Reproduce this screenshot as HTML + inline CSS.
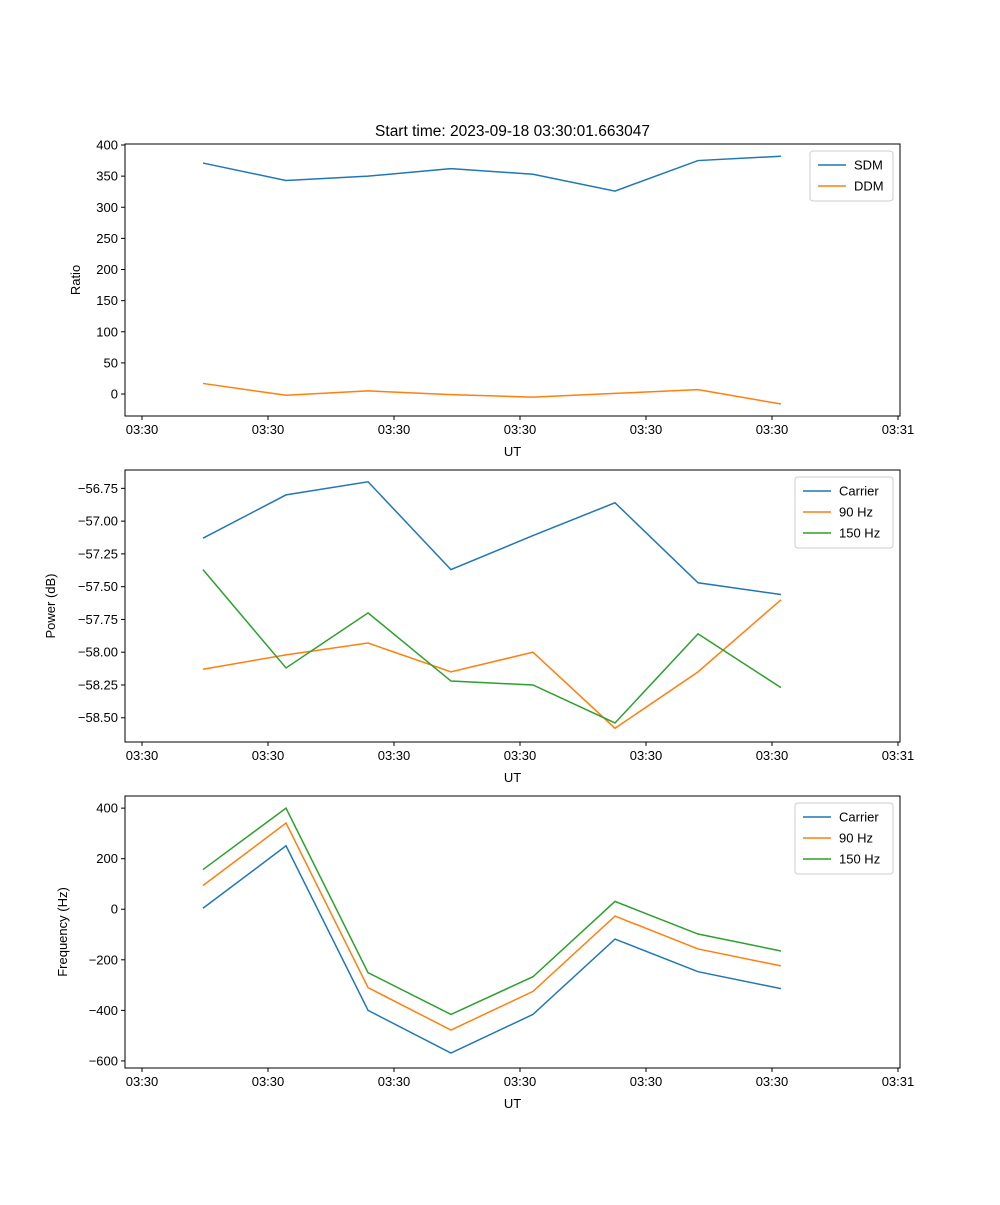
<!DOCTYPE html>
<html><head><meta charset="utf-8"><style>
body{margin:0;background:#fff}
svg text{font-family:"Liberation Sans","DejaVu Sans",sans-serif;font-size:13px;fill:#000}
</style></head><body>
<svg id="fig" width="1000" height="1200"></svg>
<script>
const times=[0.484,1.143,1.794,2.452,3.103,3.754,4.413,5.071];
const xTicks=[0,1,2,3,4,5,6];
const xTickLabels=["03:30","03:30","03:30","03:30","03:30","03:30","03:31"];
const sdm=[371,343,350,362,353,326,375,382];
const ddm=[17,-2,5,-1,-5,1,7,-16];
const ratioTicks=[0,50,100,150,200,250,300,350,400];
const pCarrier=[-57.13,-56.80,-56.70,-57.37,-57.11,-56.86,-57.47,-57.56];
const p90=[-58.13,-58.02,-57.93,-58.15,-58.00,-58.58,-58.15,-57.60];
const p150=[-57.37,-58.12,-57.70,-58.22,-58.25,-58.54,-57.86,-58.27];
const powerTicks=[-58.5,-58.25,-58.0,-57.75,-57.5,-57.25,-57.0,-56.75];
const fCarrier=[4,251,-400,-569,-416,-118,-247,-314];
const f90=[94,341,-310,-478,-325,-27,-157,-224];
const f150=[157,400,-251,-416,-267,31,-98,-165];
const freqTicks=[-600,-400,-200,0,200,400];
const C=["#1f77b4","#ff7f0e","#2ca02c"];
const NS="http://www.w3.org/2000/svg";
const svg=document.getElementById('fig');
function el(t,a,p){const e=document.createElementNS(NS,t);for(const k in a)e.setAttribute(k,a[k]);(p||svg).appendChild(e);return e;}
const L=125,R=900,xmin=-0.135,xmax=6.016;
const xs=v=>L+(v-xmin)/(xmax-xmin)*(R-L);
function panel(name,top,bot,ymin,ymax,yt,fmt,ylabel,series,names,legW,title){
  const g=el('g',{});
  
  
  const ys=v=>bot-(v-ymin)/(ymax-ymin)*(bot-top);
  series.forEach((s,i)=>{
    const pl=el('polyline',{points:s.map((v,j)=>xs(times[j])+','+ys(v)).join(' '),fill:'none',stroke:C[i],'stroke-width':1.5},g);
    
    
  });
  el('rect',{x:L,y:top,width:R-L,height:bot-top,fill:'none',stroke:'#000','stroke-width':1},g);
  xTicks.forEach((t,i)=>{const x=xs(t);el('line',{x1:x,x2:x,y1:bot,y2:bot+4,stroke:'#000'},g);
    const tx=el('text',{x:x,y:bot+18,'text-anchor':'middle'},g);tx.textContent=xTickLabels[i];});
  const xl=el('text',{x:(L+R)/2,y:bot+40,'text-anchor':'middle'},g);xl.textContent='UT';
  
  yt.forEach(t=>{const y=ys(t);el('line',{x1:L-4,x2:L,y1:y,y2:y,stroke:'#000'},g);
    const tx=el('text',{x:L-7,y:y+4.5,'text-anchor':'end'},g);tx.textContent=fmt(t);});
  const yl=el('text',{transform:`translate(${ylabel[1]},${(top+bot)/2}) rotate(-90)`,'text-anchor':'middle'},g);yl.textContent=ylabel[0];
  
  if(title){const tt=el('text',{x:(L+R)/2,y:top-8,'text-anchor':'middle',style:'font-size:15.5px'},g);tt.textContent=title;
    }
  const lx=R-7-legW,ly=top+7,lh=8+names.length*21;
  const lg=el('g',{},g);
  
  el('rect',{x:lx,y:ly,width:legW,height:lh,rx:3,fill:'#fff',stroke:'#ccc'},lg);
  names.forEach((n,i)=>{const y=ly+14+i*21;
    el('line',{x1:lx+8,x2:lx+36,y1:y,y2:y,stroke:C[i],'stroke-width':1.5},lg);
    const tx=el('text',{x:lx+44,y:y+4.5},lg);tx.textContent=n;});
}
panel('ratio-panel',144,416,-35.3,401.6,ratioTicks,t=>String(t),['Ratio',80],[sdm,ddm],['SDM','DDM'],83,'Start time: 2023-09-18 03:30:01.663047');
panel('power-panel',470,742,-58.685,-56.61,powerTicks,t=>'\u2212'+Math.abs(t).toFixed(2),['Power (dB)',55],[pCarrier,p90,p150],['Carrier','90 Hz','150 Hz'],98);
panel('frequency-panel',796,1068,-628,448,freqTicks,t=>(t<0?'\u2212':'')+Math.abs(t),['Frequency (Hz)',67],[fCarrier,f90,f150],['Carrier','90 Hz','150 Hz'],98);
</script>
</body></html>
